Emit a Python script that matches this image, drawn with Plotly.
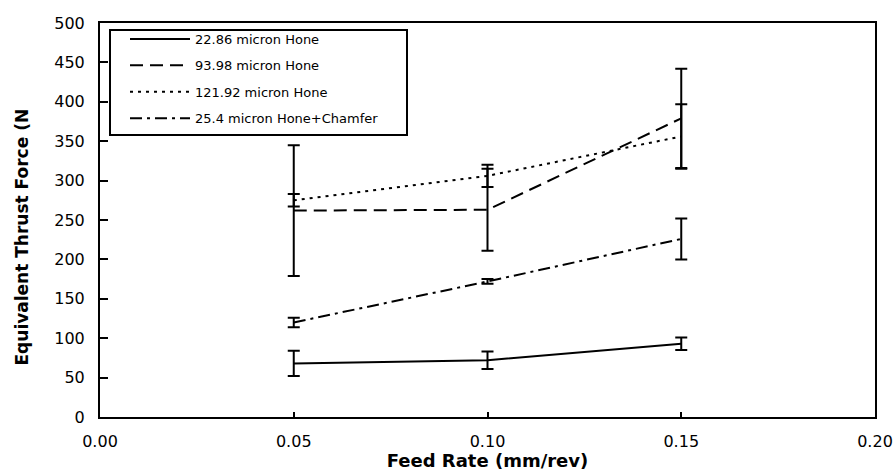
import plotly.graph_objects as go

feed = [0.05, 0.10, 0.15]
names = ["22.86 micron Hone", "93.98 micron Hone", "121.92 micron Hone", "25.4 micron Hone+Chamfer"]
h2286 = [68, 72, 93]
e2286 = [16, 11, 8]
h9398 = [262, 263, 379]
e9398 = [83, 52, 63]
h12192 = [275, 306, 356]
e12192 = [8, 14, 41]
hc254 = [120, 172, 226]
ec254 = [6, 3, 26]

series = [h2286, h9398, h12192, hc254]
errors = [e2286, e9398, e12192, ec254]
dashes = ["solid", "13px,7px", "3px,5px", "12px,5px,3px,5px"]

FONT = "DejaVu Sans, sans-serif"

# pixel helpers for legend box (plot area: x 100..875, y 23..417)
def px_x(p):
    return (p - 100) / 775.0

def px_y(p):
    return (417 - p) / 394.0

fig = go.Figure()
for i in range(4):
    fig.add_trace(go.Scatter(
        x=feed, y=series[i], name=names[i], mode="lines",
        legendgroup=f"g{i}",
        line=dict(color="black", width=2, dash=dashes[i]),
        error_y=dict(type="data", array=errors[i], visible=True,
                     color="black", thickness=2, width=6),
    ))

fig.update_layout(
    width=895, height=471,
    margin=dict(l=100, r=20, t=23, b=54),
    paper_bgcolor="white", plot_bgcolor="white",
    font=dict(family=FONT, color="black", size=16),
    showlegend=True,
    legend=dict(
        x=px_x(125), y=px_y(24), xanchor="left", yanchor="top",
        bgcolor="rgba(0,0,0,0)", borderwidth=0,
        font=dict(size=13, family=FONT), traceorder="grouped",
        tracegroupgap=6.5, itemwidth=60,
    ),
    xaxis=dict(
        range=[0, 0.2], tickvals=[0, 0.05, 0.10, 0.15, 0.20],
        ticktext=["0.00", "0.05", "0.10", "0.15", "0.20"],
        showline=True, linecolor="black", linewidth=2, mirror=True,
        ticks="inside", ticklen=5, tickwidth=2, tickcolor="black",
        showgrid=False, zeroline=False, ticklabelstandoff=9,
        automargin=False,
        title=dict(text="<b>Feed Rate (mm/rev)</b>", font=dict(size=18), standoff=1),
    ),
    yaxis=dict(
        range=[0, 500], tickvals=list(range(0, 501, 50)),
        showline=True, linecolor="black", linewidth=2, mirror=True,
        ticks="inside", ticklen=8, tickwidth=2, tickcolor="black",
        showgrid=False, zeroline=False, ticklabelstandoff=10,
        automargin=False,
    ),
    shapes=[dict(
        type="rect", xref="paper", yref="paper",
        x0=px_x(110), x1=px_x(407), y0=px_y(135), y1=px_y(30),
        line=dict(color="black", width=2), fillcolor="rgba(0,0,0,0)",
    )],
    annotations=[dict(
        text="<b>Equivalent Thrust Force (N</b>", textangle=-90,
        xref="paper", yref="paper", x=px_x(21), y=px_y(237.5),
        xanchor="center", yanchor="middle", showarrow=False,
        font=dict(size=17, family=FONT),
    )],
)

fig.write_html("out.html")
